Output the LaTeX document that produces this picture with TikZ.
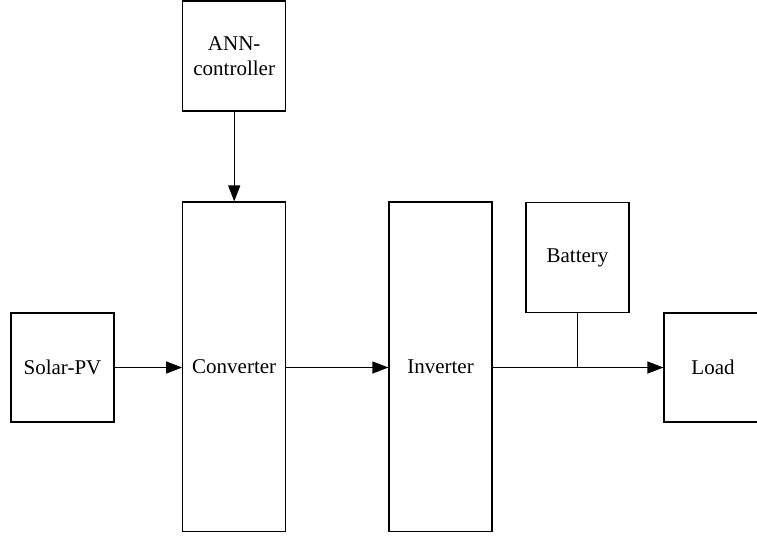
\documentclass[tikz,border=0pt]{standalone}
\usepackage{fontspec}
\setmainfont{Liberation Serif}
\usetikzlibrary{arrows.meta}
\begin{document}
\begin{tikzpicture}[x=1pt,y=-1pt,
  blk/.style={draw, line width=1.1pt, inner sep=0pt, align=center,
    font=\fontsize{21}{25}\selectfont},
  conn/.style={line width=1.1pt, -{Triangle[length=16pt,width=12pt]}},
  wire/.style={line width=1.1pt}]
\useasboundingbox (0,0) rectangle (757,538);
\node[blk, minimum width=103pt, minimum height=109pt] (solar) at (62.5,367.5) {Solar-PV};
\node[blk, minimum width=103pt, minimum height=329.5pt] (conv) at (234.2,366.75) {Converter};
\node[blk, minimum width=103pt, minimum height=110pt] (ann) at (234.2,56) {ANN-\\controller};
\node[blk, minimum width=103pt, minimum height=329.5pt] (inv) at (440.5,366.75) {Inverter};
\node[blk, minimum width=103pt, minimum height=110pt] (bat) at (577.5,257.4) {Battery};
\node[blk, minimum width=98pt, minimum height=109pt] (load) at (713,367.5) {Load};
\coordinate (junc) at (bat.south |- load.west);
\draw[conn] (solar.east) -- (solar.east -| conv.west);
\draw[conn] (ann.south) -- (conv.north);
\draw[conn] (inv.east |- load.west) -- (load.west);
\draw[conn] (conv.east |- solar.east) -- (inv.west |- solar.east);
\draw[wire] (bat.south) -- (junc);
\end{tikzpicture}
\end{document}
